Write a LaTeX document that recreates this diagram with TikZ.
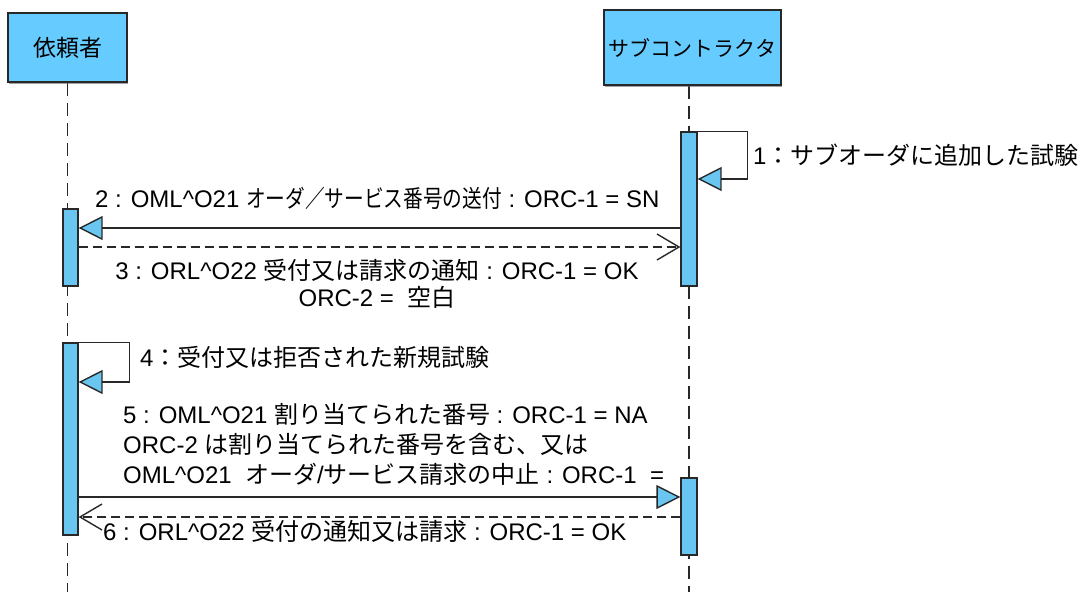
\documentclass[tikz,border=0pt]{standalone}
\usepackage{fontspec}
\setmainfont{Liberation Sans}
\newfontfamily\jpfont{Noto Sans CJK JP}
\newcommand{\jtext}[1]{{\jpfont #1}}
\usepackage{graphicx}
\usepackage{tikz}
\usetikzlibrary{arrows.meta, shadows, backgrounds}
\definecolor{ActorBlue}{RGB}{102,204,255}
\definecolor{BarBlue}{RGB}{105,198,240}
\definecolor{LineGray}{RGB}{40,40,40}
\tikzstyle{actor} = [draw=LineGray, line width=1.5pt, fill=ActorBlue, inner sep=0pt, drop shadow={shadow xshift=1pt, shadow yshift=-1.5pt, fill=black!60, opacity=0.6}]
\tikzstyle{bar} = [draw=LineGray, line width=1.3pt, fill=BarBlue, inner sep=0pt, minimum width=15pt]
\tikzstyle{lifeline} = [LineGray, line width=1.5pt, dash pattern=on 13pt off 7pt]
\tikzstyle{msg} = [LineGray, line width=1.6pt, -{Triangle[length=24pt, width=24pt, fill=BarBlue, line width=1.4pt]}]
\tikzstyle{reply} = [LineGray, line width=1.4pt, dash pattern=on 9pt off 5pt, -{Straight Barb[length=22pt, width=26pt, line width=1.4pt]}]
\tikzstyle{lbl} = [inner sep=0pt, font=\fontsize{24}{30}\selectfont]

\begin{document}
\begin{tikzpicture}[x=1pt, y=-1pt]
    % Sequence diagram: requester and subcontractor
    \useasboundingbox (0,0) rectangle (1089,592);
    \coordinate (bottom) at (0,592);

    \node[actor, minimum width=119pt, minimum height=69pt, font=\fontsize{23}{23}\selectfont\jpfont] (requester) at (67.5,47.5) {依頼者};
    \node[actor, minimum width=177pt, minimum height=75pt, font=\fontsize{21}{21}\selectfont\jpfont] (subcon) at (692.5,47.5) {サブコントラクタ};

    \node[bar, minimum width=16pt, minimum height=154pt] (actR1) at (689,209) {};
    \node[bar, minimum height=77pt] (actL1) at (70.5,247.5) {};
    \node[bar, minimum height=192pt] (actL2) at (70.5,439) {};
    \node[bar, minimum width=16pt, minimum height=77pt] (actR2) at (689,516.5) {};

    \begin{scope}[on background layer]
        \draw[lifeline] (requester.south) -- (requester.south |- bottom);
        \draw[lifeline] (actR1 |- subcon.south) -- (actR1 |- bottom);
    \end{scope}

    \coordinate (m1) at (0,179);
    \coordinate (m2) at (0,228);
    \coordinate (m3) at (0,247);
    \coordinate (m4) at (0,382);
    \coordinate (m5) at (0,497);
    \coordinate (m6) at (0,517);

    \draw[msg] (actR1.north east) -- ++(50,0) |- (actR1.east |- m1);
    \draw[msg] (actR1.west |- m2) -- (actL1.east |- m2);
    \draw[reply] (actL1.east |- m3) -- (actR1.west |- m3);
    \draw[msg] (actL2.north east) -- ++(51,0) |- (actL2.east |- m4);
    \draw[msg] (actL2.east |- m5) -- (actR2.west |- m5);
    \draw[reply] (actR2.west |- m6) -- (actL2.east |- m6);

    \node[lbl, anchor=west] (lab1) at (753,155) {1\jtext{：サブオーダに追加した試験}};
    \node[lbl, anchor=west] (lab2) at (95,198) {2 : OML\textasciicircum O21 \scalebox{0.82}[1]{\jtext{オーダ／サービス番号の送付}} : ORC-1 = SN};
    \node[lbl, align=center] (lab3) at (377,284) {3 : ORL\textasciicircum O22 \jtext{受付又は請求の通知} : ORC-1 = OK\\[-3pt] ORC-2 =\ \ \jtext{空白}};
    \node[lbl, anchor=west] (lab4) at (140,357) {4\jtext{：受付又は拒否された新規試験}};
    \node[lbl, anchor=west, align=left] (lab5) at (123,444) {5 : OML\textasciicircum O21 \jtext{割り当てられた番号} : ORC-1 = NA\\ ORC-2 \jtext{は割り当てられた番号を含む、又は}\\ OML\textasciicircum O21\ \ \jtext{オーダ}/\jtext{サービス請求の中止} : ORC-1\ \ =};
    \node[lbl, anchor=west] (lab6) at (103,531) {6 : ORL\textasciicircum O22 \jtext{受付の通知又は請求} : ORC-1 = OK};
\end{tikzpicture}
\end{document}
